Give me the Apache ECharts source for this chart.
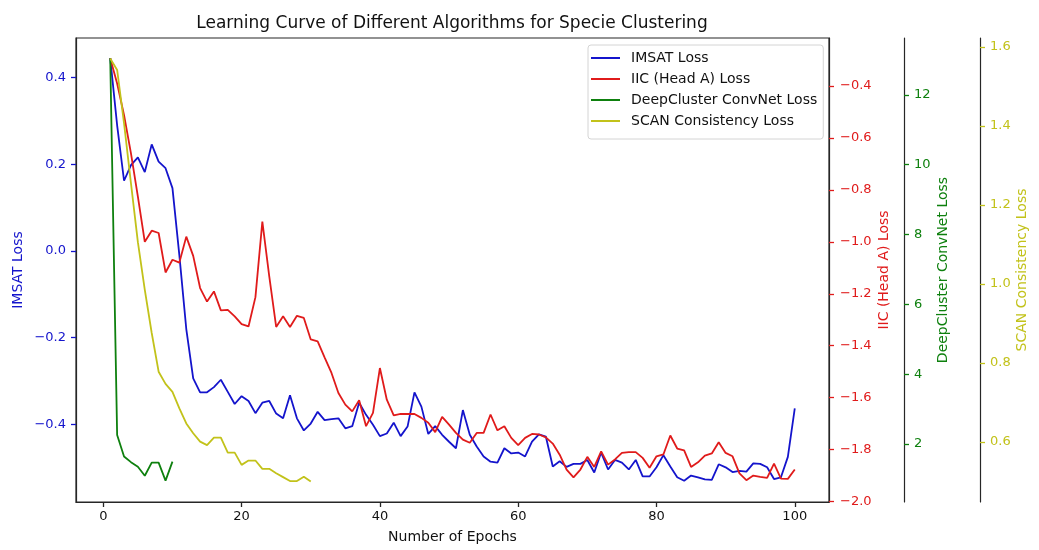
<!DOCTYPE html>
<html>
<head>
<meta charset="utf-8">
<script src="https://cdn.jsdelivr.net/npm/echarts@6/dist/echarts.min.js"></script>
<style>
  html, body { margin: 0; padding: 0; background: #ffffff; }
  #chart { width: 1039px; height: 550px; }
</style>
</head>
<body>
<div id="chart"></div>
<script>
// Loss per epoch for each clustering algorithm
const imsatLoss = [
  0.445, 0.29, 0.162, 0.198, 0.216, 0.182, 0.246, 0.206, 0.191, 0.145,
  -0.01, -0.18, -0.294, -0.326, -0.326, -0.314, -0.297, -0.325, -0.353, -0.335,
  -0.346, -0.374, -0.35, -0.346, -0.375, -0.386, -0.333, -0.386, -0.414, -0.398,
  -0.371, -0.39, -0.388, -0.386, -0.409, -0.404, -0.35, -0.378, -0.401, -0.427,
  -0.421, -0.396, -0.427, -0.405, -0.326, -0.359, -0.422, -0.404, -0.424, -0.44,
  -0.455, -0.367, -0.424, -0.451, -0.474, -0.486, -0.488, -0.455, -0.467, -0.465,
  -0.474, -0.44, -0.423, -0.428, -0.497, -0.485, -0.498, -0.491, -0.491, -0.482,
  -0.511, -0.465, -0.504, -0.482, -0.488, -0.504, -0.482, -0.52, -0.52, -0.499,
  -0.471, -0.497, -0.522, -0.53, -0.518, -0.522, -0.527, -0.528, -0.492, -0.499,
  -0.51, -0.507, -0.509, -0.49, -0.491, -0.499, -0.526, -0.522, -0.475, -0.363
];
const iicLoss = [
  -0.293, -0.39, -0.512, -0.659, -0.826, -1.0, -0.957, -0.966, -1.118, -1.069,
  -1.08, -0.98, -1.054, -1.178, -1.23, -1.191, -1.264, -1.262, -1.287, -1.317,
  -1.326, -1.213, -0.922, -1.133, -1.328, -1.287, -1.328, -1.285, -1.293, -1.376,
  -1.383, -1.445, -1.505, -1.582, -1.627, -1.653, -1.61, -1.71, -1.659, -1.486,
  -1.608, -1.668, -1.663, -1.663, -1.663, -1.678, -1.697, -1.733, -1.674, -1.704,
  -1.736, -1.762, -1.774, -1.736, -1.736, -1.665, -1.726, -1.71, -1.755, -1.783,
  -1.755, -1.74, -1.742, -1.753, -1.777, -1.82, -1.877, -1.907, -1.877, -1.828,
  -1.867, -1.807, -1.858, -1.838, -1.813, -1.81, -1.81, -1.832, -1.87, -1.826,
  -1.819, -1.746, -1.796, -1.803, -1.867, -1.849, -1.823, -1.815, -1.772, -1.813,
  -1.826, -1.892, -1.918, -1.9, -1.905, -1.909, -1.854, -1.912, -1.913, -1.877
];
const deepClusterLoss = [13.05, 2.26, 1.64, 1.48, 1.35, 1.09, 1.465, 1.465, 0.95, 1.494];
const scanLoss = [
  1.571, 1.542, 1.407, 1.255, 1.106, 0.985, 0.876, 0.778, 0.747, 0.727,
  0.685, 0.647, 0.622, 0.601, 0.592, 0.611, 0.611, 0.573, 0.573, 0.542,
  0.553, 0.553, 0.532, 0.532, 0.521, 0.511, 0.501, 0.501, 0.512, 0.5
];

// Tick labels for each axis
const epochTicks = [0, 20, 40, 60, 80, 100];
const imsatTicks = [-0.4, -0.2, 0.0, 0.2, 0.4];
const iicTicks = [-2.0, -1.8, -1.6, -1.4, -1.2, -1.0, -0.8, -0.6, -0.4];
const deepClusterTicks = [2, 4, 6, 8, 10, 12];
const scanTicks = [0.6, 0.8, 1.0, 1.2, 1.4, 1.6];

const seriesNames = ['IMSAT Loss', 'IIC (Head A) Loss', 'DeepCluster ConvNet Loss', 'SCAN Consistency Loss'];

const FONT = 'DejaVu Sans';
const BLUE = '#1414cc';
const RED = '#e01b1b';
const GREEN = '#0e800e';
const YELLOW = '#c2c21a';
const SPINE = '#262626';
const COLORS = [BLUE, RED, GREEN, YELLOW];

// matplotlib-style labels with a true minus sign
const fmt = digits => v => (v < 0 ? '\u2212' : '') + Math.abs(v).toFixed(digits);

const toPoints = arr => arr.map((v, i) => [i + 1, v]);

function valueAxis(cfg) {
  return {
    type: 'value',
    position: cfg.position,
    offset: cfg.offset || 0,
    min: cfg.min,
    max: cfg.max,
    name: cfg.name,
    nameLocation: 'middle',
    nameGap: cfg.nameGap,
    nameRotate: 90,
    nameMoveOverlap: false,
    nameTextStyle: { color: cfg.color, fontSize: 14, fontFamily: FONT },
    axisLine: { show: true, onZero: false, lineStyle: { color: SPINE, width: 1.2 } },
    axisTick: { show: true, length: 5, customValues: cfg.ticks, lineStyle: { color: cfg.color, width: 1.3 } },
    axisLabel: {
      customValues: cfg.ticks, color: cfg.color, fontSize: 13, fontFamily: FONT,
      margin: cfg.margin, formatter: fmt(cfg.digits)
    },
    splitLine: { show: false }
  };
}

const chart = echarts.init(document.getElementById('chart'), null, { renderer: 'canvas' });

chart.setOption({
  backgroundColor: '#ffffff',
  animation: false,
  title: {
    text: 'Learning Curve of Different Algorithms for Specie Clustering',
    left: 447, top: 10, textAlign: 'center',
    textStyle: { fontSize: 17, fontWeight: 'normal', fontFamily: FONT, color: '#111111' }
  },
  grid: {
    left: 76, right: 210, top: 38, bottom: 48,
    outerBoundsMode: 'none',
    show: true, borderColor: SPINE, borderWidth: 1.2, backgroundColor: 'transparent'
  },
  legend: {
    orient: 'vertical', left: 588, top: 45,
    padding: [5, 6, 10, 3], itemGap: 5, itemWidth: 29, itemHeight: 2, icon: 'rect',
    borderColor: '#d4d4d4', borderWidth: 1, borderRadius: 3,
    backgroundColor: 'rgba(255,255,255,0.85)',
    textStyle: { fontSize: 14, fontFamily: FONT, color: '#111111', lineHeight: 16, padding: [0, 0, 0, 6] },
    data: seriesNames
  },
  xAxis: {
    type: 'value', min: -3.95, max: 104.95,
    name: 'Number of Epochs', nameLocation: 'middle', nameGap: 28,
    nameTextStyle: { color: '#111111', fontSize: 14, fontFamily: FONT },
    axisLine: { show: true, onZero: false, lineStyle: { color: SPINE, width: 1.2 } },
    axisTick: { show: true, length: 5, customValues: epochTicks, lineStyle: { color: SPINE, width: 1.3 } },
    axisLabel: { customValues: epochTicks, color: '#111111', fontSize: 13, fontFamily: FONT, margin: 8 },
    splitLine: { show: false }
  },
  yAxis: [
    valueAxis({ position: 'left', min: -0.579, max: 0.4913, name: 'IMSAT Loss', nameGap: 51,
      color: BLUE, ticks: imsatTicks, digits: 1, margin: 10 }),
    valueAxis({ position: 'right', min: -2.002, max: -0.215, name: 'IIC (Head A) Loss', nameGap: 48,
      color: RED, ticks: iicTicks, digits: 1, margin: 11 }),
    valueAxis({ position: 'right', offset: 75, min: 0.338, max: 13.63, name: 'DeepCluster ConvNet Loss', nameGap: 32,
      color: GREEN, ticks: deepClusterTicks, digits: 0, margin: 10 }),
    valueAxis({ position: 'right', offset: 151, min: 0.448, max: 1.623, name: 'SCAN Consistency Loss', nameGap: 35,
      color: YELLOW, ticks: scanTicks, digits: 1, margin: 10 })
  ],
  series: [
    { name: seriesNames[0], type: 'line', yAxisIndex: 0, data: toPoints(imsatLoss) },
    { name: seriesNames[1], type: 'line', yAxisIndex: 1, data: toPoints(iicLoss) },
    { name: seriesNames[2], type: 'line', yAxisIndex: 2, data: toPoints(deepClusterLoss) },
    { name: seriesNames[3], type: 'line', yAxisIndex: 3, data: toPoints(scanLoss) }
  ].map((s, i) => Object.assign(s, {
    symbol: 'none', showSymbol: false,
    lineStyle: { width: 1.8, color: COLORS[i] },
    itemStyle: { color: COLORS[i] }
  }))
});
</script>
</body>
</html>
